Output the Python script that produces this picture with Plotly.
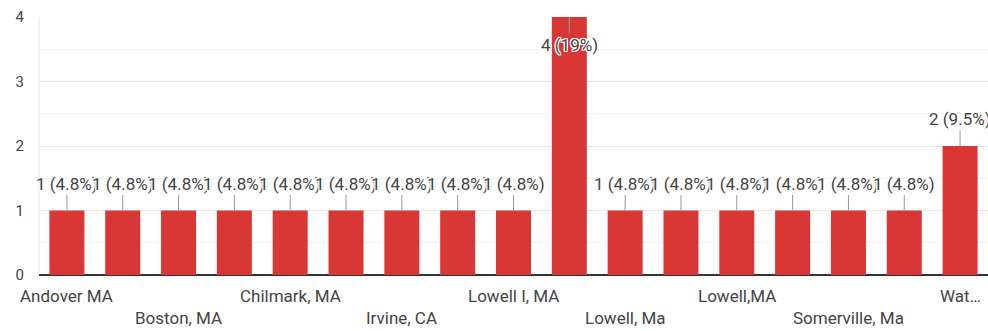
import plotly.graph_objects as go

categories = ["Andover MA", "Arlington, MA", "Boston, MA", "Cambridge, MA", "Chilmark, MA",
              "Dracut, MA", "Irvine, CA", "Lowell", "Lowell I, MA", "Lowell, MA",
              "Lowell, Ma", "Lowell, ma", "Lowell,MA", "Somerville, MA", "Somerville, Ma",
              "Tewksbury, MA", "Watertown, MA"]
counts = [1, 1, 1, 1, 1, 1, 1, 1, 1, 4, 1, 1, 1, 1, 1, 1, 2]
bar_labels = ["1 (4.8%)"] * 9 + ["4 (19%)"] + ["1 (4.8%)"] * 6 + ["2 (9.5%)"]
shown_ticks = {0: "Andover MA", 2: "Boston, MA", 4: "Chilmark, MA", 6: "Irvine, CA",
               8: "Lowell I, MA", 10: "Lowell, Ma", 12: "Lowell,MA", 14: "Somerville, Ma",
               16: "Wat…"}

RED = "#D93636"
TXT = "#444444"
FONT = "Roboto, Arial, sans-serif"
HALO = ("1px 0 0 white, -1px 0 0 white, 0 1px 0 white, 0 -1px 0 white, "
        "1px 1px 0 white, -1px -1px 0 white, 1px -1px 0 white, -1px 1px 0 white")

fig = go.Figure(go.Bar(x=categories, y=counts, marker=dict(color=RED, line=dict(width=0)),
                       hoverinfo="skip"))

ymax = 4
annotations = []
for i, (c, v, t) in enumerate(zip(categories, counts, bar_labels)):
    below = v >= ymax
    annotations.append(dict(
        x=c, y=v, xref="x", yref="y", text=t, showarrow=True,
        arrowhead=0, arrowwidth=1, arrowcolor="#999999",
        ax=0, ay=28 if below else -27, standoff=0,
        font=dict(family=FONT, size=17, color=TXT, shadow=HALO),
    ))

for i, lab in shown_ticks.items():
    row = (i // 2) % 2
    annotations.append(dict(
        x=categories[i], y=0, xref="x", yref="y", text=lab, showarrow=False,
        yanchor="middle", yshift=-21 - 22 * row,
        font=dict(family=FONT, size=17, color=TXT),
    ))

fig.update_layout(
    width=988, height=331,
    margin=dict(l=39, r=0, t=17, b=56),
    paper_bgcolor="white", plot_bgcolor="white",
    bargap=0.373, showlegend=False,
    annotations=annotations,
    font=dict(family=FONT, size=14, color=TXT),
    xaxis=dict(type="category", range=[-0.5, len(categories) - 0.5],
               showticklabels=False, showgrid=False, zeroline=False,
               showline=False, ticks="", automargin=False),
    yaxis=dict(range=[0, ymax], tickvals=[0, 1, 2, 3, 4], showgrid=True,
               gridcolor="#e6e6e6", gridwidth=1,
               minor=dict(dtick=0.5, showgrid=True, gridcolor="#f3f3f3", gridwidth=1),
               zeroline=True, zerolinecolor="#333333", zerolinewidth=2,
               showline=False, ticks="", ticklabelstandoff=14, automargin=False,
               tickfont=dict(family=FONT, size=15, color=TXT)),
)
fig.add_shape(type="line", xref="paper", yref="paper", x0=0, x1=0, y0=0, y1=1,
              line=dict(color="#e6e6e6", width=1), layer="below")

fig.write_html("out.html")
